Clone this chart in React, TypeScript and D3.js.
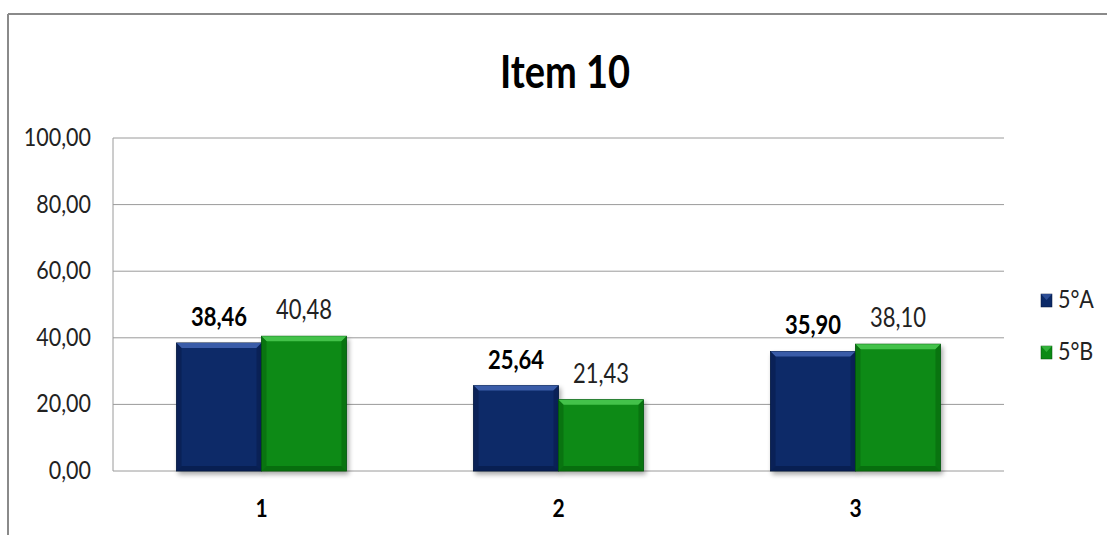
import React from "react";
import * as d3 from "d3";

const categories = ["1", "2", "3"];
const seriesNames = ["5°A", "5°B"];
const valuesA = [38.46, 25.64, 35.9];
const valuesB = [40.48, 21.43, 38.1];
const yTicks = [0, 20, 40, 60, 80, 100];
const title = "Item 10";

const W = 1107;
const H = 535;
const FONT = "Lato, 'Open Sans', sans-serif";
const colors = [
  { base: "#0c2a68", light: "#3a5ca8", dark: "#081d4c", edge: "#06163a" },
  { base: "#0a8a14", light: "#43c24a", dark: "#06660d", edge: "#04500a" },
];

const fmt = (v: number) => v.toFixed(2).replace(".", ",");

export default function App() {
  const left = 113, right = 1004, top = 138, bottom = 471;
  const x0 = d3.scaleBand<string>().domain(categories).range([left, right]).paddingInner(0.428).paddingOuter(0.214);
  const x1 = d3.scaleBand<string>().domain(seriesNames).range([0, x0.bandwidth()]);
  const y = d3.scaleLinear().domain([0, 100]).range([bottom, top]);
  const series = [valuesA, valuesB];
  const sy = 1.2;

  const Txt = (p: { x: number; y: number; s: string; size: number; bold?: boolean; anchor?: string; fill?: string }) => (
    <text
      transform={`translate(${p.x},${p.y}) scale(1,${sy})`}
      textAnchor={p.anchor || "middle"}
      fontFamily={FONT}
      fontSize={p.size}
      fontWeight={p.bold ? 700 : 400}
      fill={p.fill || "#111"}
    >
      {p.s}
    </text>
  );

  const bev = 5;
  return (
    <svg width={W} height={H} style={{ position: "absolute", left: 0, top: 0, background: "#fff" }}>
      <defs>
        <filter id="sh" x="-20%" y="-20%" width="140%" height="140%">
          <feGaussianBlur in="SourceAlpha" stdDeviation="2.5" />
          <feOffset dx="2" dy="3" result="b" />
          <feComponentTransfer><feFuncA type="linear" slope="0.35" /></feComponentTransfer>
          <feMerge><feMergeNode /><feMergeNode in="SourceGraphic" /></feMerge>
        </filter>
      </defs>
      {/* outer frame */}
      <line x1={8} x2={W} y1={14} y2={14} stroke="#8a8a8a" strokeWidth={2} />
      <line x1={8} x2={8} y1={14} y2={H} stroke="#8a8a8a" strokeWidth={2} />

      {/* title */}
      <Txt x={565} y={88} s={title} size={38} bold fill="#000" />

      {/* grid */}
      {yTicks.map((t) => (
        <g key={t}>
          <line x1={left} x2={right} y1={y(t)} y2={y(t)} stroke="#9a9a9a" strokeWidth={1} />
          <Txt x={91} y={y(t) + 8} s={fmt(t)} size={21.5} anchor="end" fill="#222" />
        </g>
      ))}
      <line x1={left} x2={left} y1={top} y2={bottom} stroke="#9a9a9a" strokeWidth={1} />

      {/* bars */}
      {categories.map((c, i) => (
        <g key={c} transform={`translate(${x0(c)},0)`}>
          {seriesNames.map((sname, j) => {
            const v = series[j][i];
            const bx = x1(sname)!;
            const bw = x1.bandwidth();
            const by = y(v);
            const bh = bottom - by;
            const col = colors[j];
            return (
              <g key={sname}>
                <g filter="url(#sh)">
                  <rect x={bx} y={by} width={bw} height={bh} fill={col.base} stroke={col.edge} strokeWidth={0.8} />
                </g>
                <polygon points={`${bx},${by} ${bx + bw},${by} ${bx + bw - bev},${by + bev} ${bx + bev},${by + bev}`} fill={col.light} />
                <polygon points={`${bx},${by} ${bx + bev},${by + bev} ${bx + bev},${bottom - bev} ${bx},${bottom}`} fill={col.dark} opacity={0.6} />
                <polygon points={`${bx + bw},${by} ${bx + bw - bev},${by + bev} ${bx + bw - bev},${bottom - bev} ${bx + bw},${bottom}`} fill={col.dark} opacity={0.6} />
                <polygon points={`${bx},${bottom} ${bx + bev},${bottom - bev} ${bx + bw - bev},${bottom - bev} ${bx + bw},${bottom}`} fill={col.dark} opacity={0.8} />
                <Txt x={bx + bw / 2} y={by - 17} s={fmt(v)} size={22} bold={j === 0} fill={j === 0 ? "#000" : "#222"} />
              </g>
            );
          })}
          <Txt x={x0.bandwidth() / 2} y={517} s={c} size={21} bold fill="#000" />
        </g>
      ))}

      {/* legend */}
      {seriesNames.map((s, j) => {
        const cy = 300 + j * 52;
        const col = colors[j];
        return (
          <g key={s}>
            <rect x={1041} y={cy - 6} width={11} height={13} fill={col.base} stroke={col.edge} strokeWidth={0.5} />
            <polygon points={`${1041},${cy - 6} ${1052},${cy - 6} ${1046.5},${cy}`} fill={col.light} opacity={0.7} />
            <Txt x={1058} y={cy + 8} s={s} size={21.5} anchor="start" fill="#222" />
          </g>
        );
      })}
    </svg>
  );
}
